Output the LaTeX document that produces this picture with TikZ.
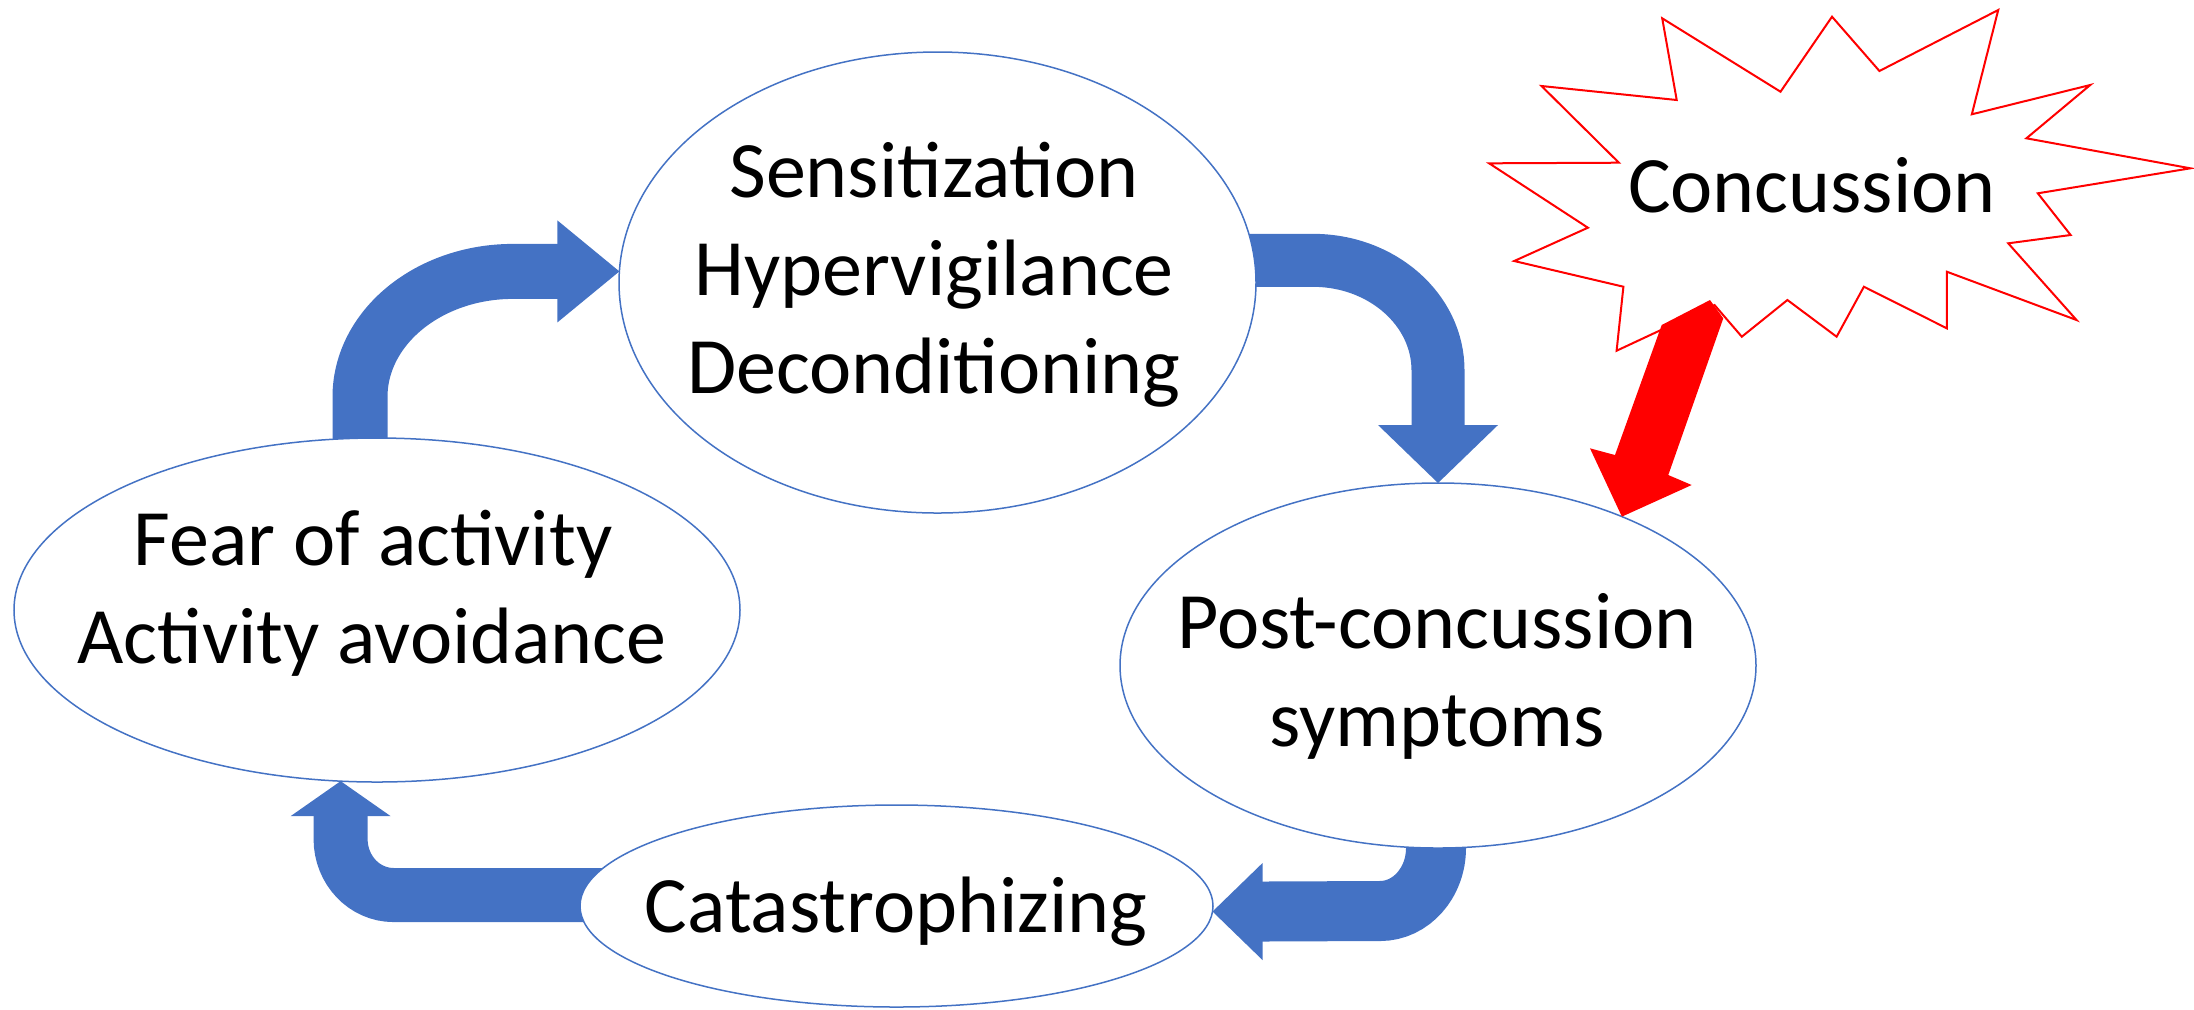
\documentclass[tikz,border=0pt]{standalone}
\usepackage{fontspec}
\setmainfont{Carlito}
\usetikzlibrary{calc,backgrounds,shapes.geometric}
\definecolor{ppblue}{HTML}{4472C4}
\definecolor{ppred}{HTML}{FF0000}
\begin{document}
\begin{tikzpicture}[x=0.5pt,y=-0.5pt,
  ell/.style={ellipse, draw=ppblue, line width=0.75pt, fill=white, inner sep=0pt, outer sep=0pt},
  lbl/.style={anchor=base, inner sep=0pt, font=\fontsize{40pt}{48.8pt}\selectfont, text=black},
  shaft/.style={draw=ppblue, line width=#1, line cap=butt},
  headfill/.style={fill=ppblue},
  burst/.style={draw=ppred, line width=1pt, fill=white, line join=miter},
]
\useasboundingbox (0,0) rectangle (2194,1009);

% ellipses
\node[ell, minimum width=318.5pt, minimum height=230.5pt] (sens) at (937.5,282.5) {};
\node[ell, minimum width=363pt, minimum height=172pt] (fear) at (377,610) {};
\node[ell, minimum width=318pt, minimum height=182.5pt] (post) at (1438,665.5) {};
\node[ell, minimum width=316.5pt, minimum height=101pt] (cat) at (896.5,906) {};

% texts
\node[lbl] (s1) at (934,197) {Sensitization};
\node[lbl] (s2) at (934,295) {Hypervigilance};
\node[lbl] (s3) at (934,393) {Deconditioning};
\node[lbl] (f1) at (373,565) {Fear of activity};
\node[lbl] (f2) at (372,663) {Activity avoidance};
\node[lbl] (p1) at (1437,648) {Post-concussion};
\node[lbl] (p2) at (1437,746) {symptoms};
\node[lbl] (c1) at (896,932) {Catastrophizing};

% starburst
\draw[burst] (1662.2,18.3) -- (1676.7,100) -- (1541.5,86) -- (1618.9,162.7)
  -- (1489.1,163.3) -- (1587.9,227.7) -- (1514.2,261) -- (1623.4,286.7)
  -- (1616.6,350.7) -- (1714.5,305) -- (1741.8,336.7) -- (1787.4,300)
  -- (1836.6,336.7) -- (1863.9,286.7) -- (1946.8,328.3) -- (1946.8,271.7)
  -- (2076.5,320) -- (2008.2,243.3) -- (2070.6,235) -- (2037.8,193.3)
  -- (2190.4,168.3) -- (2026.4,138.3) -- (2090.2,85) -- (1971.8,114.3)
  -- (1998.2,10) -- (1879.4,71) -- (1832.0,16.7) -- (1780.5,91.7) -- cycle;
\node[lbl] (conc) at (1812,212) {Concussion};

% red arrow (block arrow from the starburst to the symptoms ellipse)
\coordinate (rTip) at (post.39);
\fill[ppred] (rTip) -- ($(rTip)+(-31.9,-68.3)$) -- ($(rTip)+(-6.9,-61.6)$)
  -- ($(rTip)+(39.8,-191.6)$) -- ($(rTip)+(88.1,-216.6)$)
  -- ($(rTip)+(101.4,-198.3)$) -- ($(rTip)+(46.4,-41.6)$)
  -- ($(rTip)+(69.8,-31.6)$) -- cycle;

% blue bent arrows
\begin{pgfonlayer}{background}
  % fear -> sens
  \coordinate (aTip) at (sens.178);
  \draw[shaft=27.5pt] ($(fear.north)+(-17,40)$) -- ++(0,-81)
     arc[start angle=180, end angle=270, x radius=153, y radius=125.6]
     -- ($(aTip)+(-60,0)$);
  \fill[headfill] (aTip) -- ++(-62,-51) -- ++(0,102) -- cycle;
  % sens -> post
  \coordinate (bTip) at (post.north);
  \draw[shaft=26.5pt] ($(sens.4)+(-40,0)$) -- ++(98.5,0)
     arc[start angle=270, end angle=360, x radius=125, y radius=110]
     -- ($(bTip)+(0,-56)$);
  \fill[headfill] (bTip) -- ++(-60,-58) -- ++(120,0) -- cycle;
  % post -> cat
  \coordinate (cTip) at (cat.-1);
  \draw[shaft=30pt] ($(post.south)+(-2,-30)$) -- ++(0,30)
     arc[start angle=0, end angle=90, x radius=56, y radius=63]
     -- ($(cTip)+(48,0)$);
  \fill[headfill] (cTip) -- ++(50,-48.5) -- ++(0,97) -- cycle;
  % cat -> fear
  \coordinate (dTip) at (fear.258);
  \draw[shaft=27pt] ($(cat.178)+(40,0)$) -- ++(-228.3,0)
     arc[start angle=90, end angle=180, x radius=53, y radius=56]
     -- ($(dTip)+(0,33)$);
  \fill[headfill] (dTip) -- ++(-50,35) -- ++(100,0) -- cycle;
\end{pgfonlayer}
\end{tikzpicture}
\end{document}
